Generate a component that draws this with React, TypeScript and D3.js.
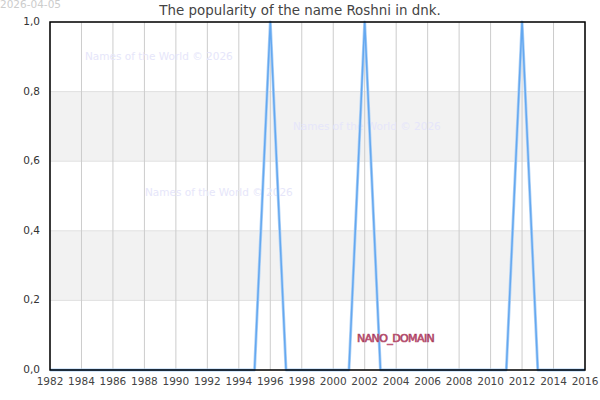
import React from "react";
import * as d3 from "d3";

const years = d3.range(1982, 2017);
const peakYears = [1996, 2002, 2012];
const values = years.map((y) => (peakYears.includes(y) ? 1 : 0));
const xTicks = d3.range(1982, 2017, 2);
const yTicks = [0, 0.2, 0.4, 0.6, 0.8, 1.0];
const bands = [[0.2, 0.4], [0.6, 0.8]];
const title = "The popularity of the name Roshni in dnk.";
const dateLabel = "2026-04-05";
const watermark = "Names of the World © 2026";
const watermarkPos = [[85, 57], [293, 127], [145, 193]];

const W = 600, H = 400;
const M = { left: 50, right: 15, top: 22, bottom: 30 };

export default function App() {
  const x = d3.scaleLinear().domain([1982, 2016]).range([M.left, W - M.right]);
  const y = d3.scaleLinear().domain([0, 1]).range([H - M.bottom, M.top]);
  const line = d3.line<number>().x((_, i) => x(years[i])).y((d) => y(d));
  const font = "DejaVu Sans, sans-serif";
  return (
    <svg width={W} height={H} style={{ position: "absolute", left: 0, top: 0 }} fontFamily={font}>
      <rect x={0} y={0} width={W} height={H} fill="#fff" />
      {bands.map(([a, b], i) => (
        <rect key={i} x={M.left} y={y(b)} width={x(2016) - M.left} height={y(a) - y(b)} fill="#f2f2f2" />
      ))}
      {yTicks.map((t) => (
        <line key={t} x1={M.left} x2={x(2016)} y1={y(t)} y2={y(t)} stroke="#e0e0e0" strokeWidth={1} />
      ))}
      {xTicks.map((t) => (
        <line key={t} x1={x(t)} x2={x(t)} y1={y(1)} y2={y(0)} stroke="#cccccc" strokeWidth={1} />
      ))}
      {watermarkPos.map(([wx, wy], i) => (
        <text key={i} x={wx} y={wy} fontSize={10.5} fill="#e6e6fa" dominantBaseline="middle">{watermark}</text>
      ))}
      <path d={line(values) || ""} fill="none" stroke="#b0d2f6" strokeWidth={3} strokeLinejoin="round" />
      <path d={line(values) || ""} fill="none" stroke="#64a8f0" strokeWidth={1.5} strokeLinejoin="round" />
      <rect x={M.left} y={M.top} width={x(2016) - M.left} height={y(0) - M.top} fill="none" stroke="#000" strokeWidth={1.5} />
      {yTicks.map((t) => (
        <text key={t} x={M.left - 10} y={y(t)} fontSize={10.5} fill="#333" textAnchor="end" dominantBaseline="middle">
          {d3.format(".1f")(t).replace(".", ",")}
        </text>
      ))}
      {xTicks.map((t) => (
        <text key={t} x={x(t)} y={y(0) + 15} fontSize={10.5} fill="#444" textAnchor="middle">{t}</text>
      ))}
      <text x={W / 2} y={15} fontSize={13.4} fill="#444" textAnchor="middle">{title}</text>
      <text x={0} y={8} fontSize={10.5} fill="#cccccc">{dateLabel}</text>
      <text x={357} y={342} fontSize={11} fill="#7a1030" stroke="#c05a7a" strokeWidth={0.7} letterSpacing={-0.6}>NANO_DOMAIN</text>
    </svg>
  );
}
